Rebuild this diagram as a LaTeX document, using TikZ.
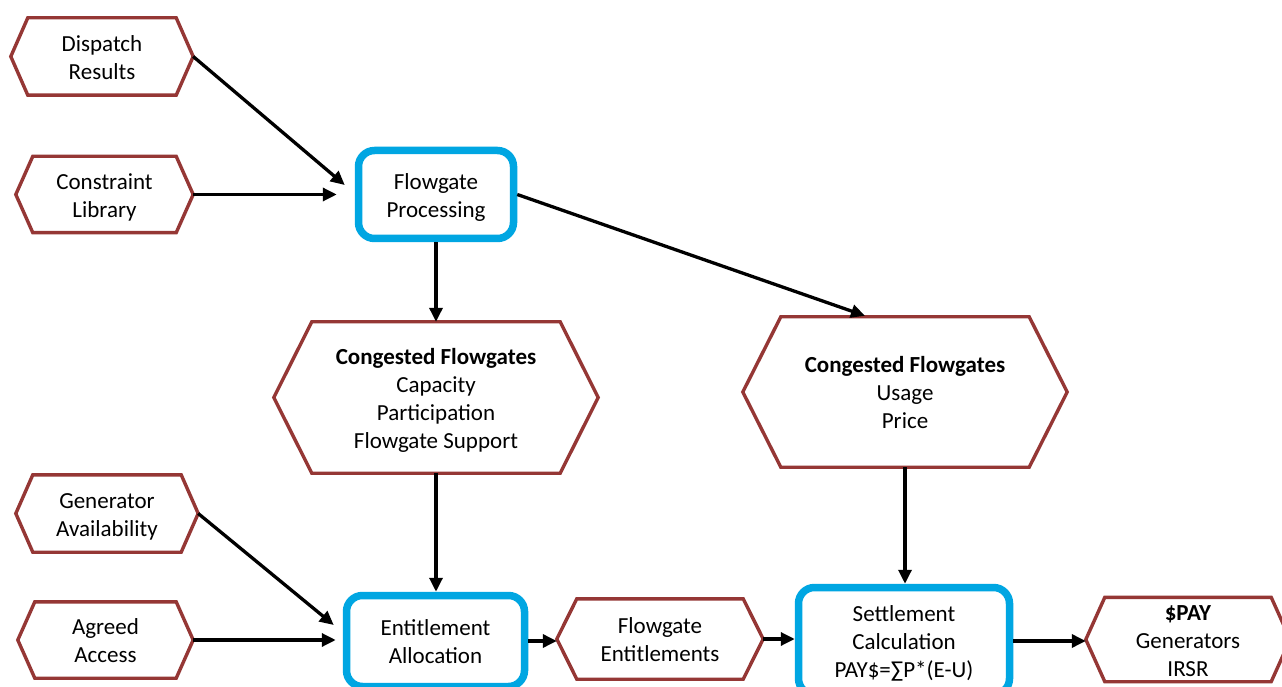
\documentclass[tikz,border=0pt]{standalone}
\usepackage{fontspec}
\setmainfont{Carlito}
\usetikzlibrary{arrows.meta,calc}
\definecolor{hexred}{RGB}{149,55,53}
\definecolor{procblue}{RGB}{0,166,226}

\tikzset{
  lbl/.style={font=\fontsize{23}{28}\selectfont, inner sep=0pt},
  procbox/.style={lbl, draw=procblue, line width=7.5pt, rounded corners=16pt, fill=white},
  hexline/.style={draw=hexred, line width=3.4pt, line join=miter},
  flow/.style={draw=black, line width=3.3pt, -{Triangle[length=14pt,width=13pt]}},
}

% centred block of lines with fixed strut spacing, set slightly low
\newcommand{\celltext}[1]{\raisebox{-3pt}[\height][\depth]{\begin{tabular}{@{}c@{}}#1\end{tabular}}}

% hexagonal outline around a named node, #2 = depth of the pointed ends
\newcommand{\hexframe}[2]{%
  \draw[hexline] (#1.west) -- ([xshift=#2]#1.north west) -- ([xshift=-#2]#1.north east)
    -- (#1.east) -- ([xshift=-#2]#1.south east) -- ([xshift=#2]#1.south west) -- cycle;}

\begin{document}
\begin{tikzpicture}[x=1pt,y=1pt]
\useasboundingbox (0,0) rectangle (1282,686);
\clip (0,0) rectangle (1282,686);
\fill[white] (0,0) rectangle (1282,686);

% inputs on the left
\node[lbl, minimum width=182, minimum height=77] (disp) at (102,629.5) {\celltext{Dispatch\\Results}};
\node[lbl, minimum width=177, minimum height=76] (cons) at (104.5,491.5) {\celltext{Constraint\\Library}};
\node[lbl, minimum width=182, minimum height=77] (gen)  at (107,172.5) {\celltext{Generator\\Availability}};
\node[lbl, minimum width=175, minimum height=76] (agr)  at (105.5,46) {\celltext{Agreed\\Access}};

% processing steps
\node[procbox, minimum width=155, minimum height=88]  (fp)  at (436,491.5) {\celltext{Flowgate\\Processing}};
\node[procbox, minimum width=178, minimum height=91]  (ent) at (435.5,45) {\celltext{Entitlement\\Allocation}};
\node[procbox, minimum width=211, minimum height=107] (set) at (904,45) {\celltext{Settlement\\Calculation\\PAY\$=∑P*(E-U)}};

% intermediate data
\node[lbl, minimum width=324, minimum height=151] (cl) at (436,288.5)
  {\celltext{\textbf{Congested Flowgates}\\Capacity\\Participation\\Flowgate Support}};
\node[lbl, minimum width=324, minimum height=150] (cr) at (905,294)
  {\celltext{\textbf{Congested Flowgates}\\Usage\\Price}};
\node[lbl, minimum width=206, minimum height=80] (fe) at (660,47) {\celltext{Flowgate\\Entitlements}};
\node[lbl, minimum width=204, minimum height=77] (pay) at (1188,46.5) {\celltext{\textbf{\$PAY}\\Generators\\IRSR}};

\hexframe{disp}{17}
\hexframe{cons}{17}
\hexframe{gen}{17}
\hexframe{agr}{17}
\hexframe{cl}{38}
\hexframe{cr}{38}
\hexframe{fe}{20}
\hexframe{pay}{19}

% connectors
\draw[flow] (disp.east) -- ($(fp.west)+(-10,9.5)$);
\draw[flow] (cons.east) -- ($(fp.west)+(-18,0)$);
\draw[flow] (fp.south) -- (cl.north);
\draw[flow] (fp.east) -- ($(cr.north)+(-40,1)$);
\draw[flow] (cl.south) -- (ent.north -| cl.south);
\draw[flow] (cr.south) -- (set.north -| cr.south);
\draw[flow] (gen.east) -- ($(ent.west)+(-9,16)$);
\draw[flow] (agr.east) -- ($(ent.west)+(-7,1)$);
\draw[flow] (ent.east) -- (ent.east -| fe.west);
\draw[flow] (fe.east) -- (fe.east -| set.west);
\draw[flow] (set.east) -- (set.east -| pay.west);
\end{tikzpicture}
\end{document}
